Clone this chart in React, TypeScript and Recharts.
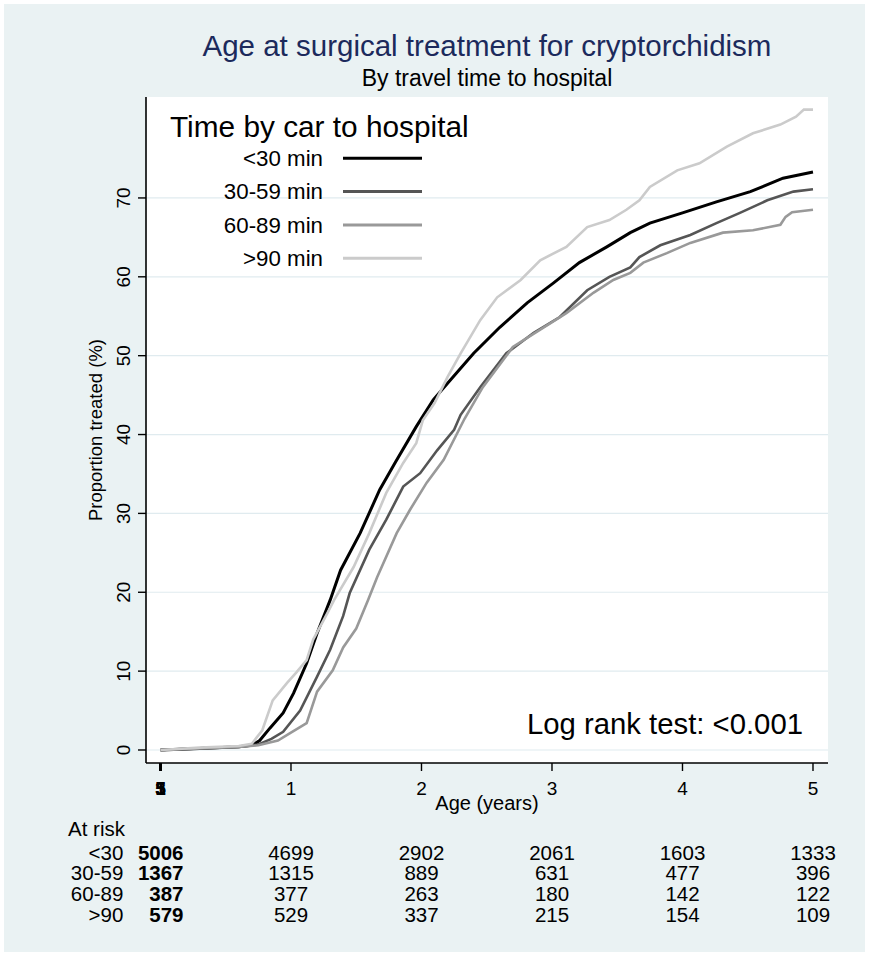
import React from 'react';
import { LineChart, Line, XAxis, YAxis, CartesianGrid, Legend } from 'recharts';

// ---------------- data ----------------
const GROUPS = ['<30 min', '30-59 min', '60-89 min', '>90 min'];
const RISK_LABELS = ['<30', '30-59', '60-89', '>90'];

const T_LT30 = [0, 0.3, 0.6, 0.7, 0.76, 0.84, 0.94, 1.02, 1.12, 1.2, 1.3, 1.38, 1.53, 1.68, 1.8, 1.96, 2.09, 2.2, 2.4, 2.6, 2.81, 3.01, 3.21, 3.42, 3.6, 3.75, 4.0, 4.26, 4.52, 4.77, 5.0];
const V_LT30 = [0, 0.2, 0.4, 0.6, 1.2, 2.8, 4.7, 7.2, 11, 14.8, 19, 22.8, 27.5, 33, 36.5, 41, 44.4, 46.5, 50.3, 53.6, 56.7, 59.2, 61.8, 63.8, 65.6, 66.8, 68.1, 69.5, 70.8, 72.5, 73.3];

const T_30_59 = [0, 0.3, 0.6, 0.75, 0.85, 0.94, 1.07, 1.2, 1.3, 1.4, 1.45, 1.6, 1.73, 1.86, 1.99, 2.12, 2.25, 2.3, 2.45, 2.65, 2.86, 3.06, 3.27, 3.44, 3.6, 3.67, 3.83, 4.06, 4.26, 4.44, 4.65, 4.85, 5.0];
const V_30_59 = [0, 0.2, 0.4, 0.7, 1.4, 2.3, 5, 9.3, 12.7, 17, 19.9, 25.4, 29.2, 33.4, 35.1, 38, 40.6, 42.5, 46, 50.3, 52.9, 54.9, 58.3, 60, 61.2, 62.5, 64, 65.3, 66.8, 68.1, 69.7, 70.8, 71.1];

const T_60_89 = [0, 0.3, 0.6, 0.75, 0.9, 0.99, 1.12, 1.2, 1.32, 1.4, 1.5, 1.59, 1.66, 1.81, 1.91, 2.04, 2.17, 2.33, 2.47, 2.7, 2.91, 3.11, 3.32, 3.47, 3.6, 3.7, 3.88, 4.06, 4.31, 4.54, 4.75, 4.79, 4.84, 5.0];
const V_60_89 = [0, 0.2, 0.4, 0.6, 1.2, 2.1, 3.4, 7.4, 10.1, 13, 15.4, 19, 21.9, 27.5, 30.4, 33.9, 36.8, 42, 46, 51.1, 53.3, 55.4, 58, 59.6, 60.5, 61.8, 63, 64.3, 65.6, 65.9, 66.6, 67.6, 68.2, 68.5];

const T_GT90 = [0, 0.3, 0.6, 0.7, 0.78, 0.86, 0.97, 1.04, 1.12, 1.17, 1.28, 1.33, 1.48, 1.6, 1.73, 1.86, 1.96, 2.01, 2.1, 2.2, 2.3, 2.45, 2.58, 2.76, 2.91, 3.11, 3.27, 3.44, 3.57, 3.67, 3.75, 3.96, 4.13, 4.34, 4.54, 4.75, 4.87, 4.93, 5.0];
const V_GT90 = [0, 0.3, 0.5, 0.8, 2.5, 6.3, 8.5, 9.8, 11.4, 14, 17.4, 19, 23.2, 27.5, 32.6, 36.4, 38.9, 41.8, 44, 47.3, 50.3, 54.5, 57.4, 59.6, 62.1, 63.8, 66.3, 67.2, 68.5, 69.7, 71.4, 73.5, 74.4, 76.5, 78.2, 79.3, 80.3, 81.2, 81.2];

const RISK_TIMES = [0, 1, 2, 3, 4, 5];
const RISK_LT30 = [5006, 4699, 2902, 2061, 1603, 1333];
const RISK_30_59 = [1367, 1315, 889, 631, 477, 396];
const RISK_60_89 = [387, 377, 263, 180, 142, 122];
const RISK_GT90 = [579, 529, 337, 215, 154, 109];

const X_TICKS = [0, 1, 2, 3, 4, 5];
const Y_TICKS = [0, 10, 20, 30, 40, 50, 60, 70];

// ---------------- layout / style ----------------
const W = 869;
const H = 956;
const PLOT = { left: 146, top: 97, right: 828, bottom: 763 };
const X_DOMAIN: [number, number] = [-0.111, 5.115];
const Y_DOMAIN: [number, number] = [-1.65, 82.8];
const COLORS = ['#000000', '#555555', '#999999', '#cbcbcb'];
const WIDTHS = [3, 2.6, 2.6, 2.6];
const FONT = '"Liberation Sans", Arial, Helvetica, sans-serif';
const BG = '#eaf2f3';
const GRID = '#e0ebef';
const TABLE_FS = 20.5;

const zip = (t: number[], v: number[]) => t.map((x, i) => ({ t: x, v: v[i] }));
const SERIES = [zip(T_LT30, V_LT30), zip(T_30_59, V_30_59), zip(T_60_89, V_60_89), zip(T_GT90, V_GT90)];
const RISK = [RISK_LT30, RISK_30_59, RISK_60_89, RISK_GT90];

const xPix = (t: number) =>
  PLOT.left + ((t - X_DOMAIN[0]) / (X_DOMAIN[1] - X_DOMAIN[0])) * (PLOT.right - PLOT.left);

const XTick = (props: any) => {
  const { x, payload } = props;
  if (payload.value === 0) {
    return (
      <g>
        <line x1={x} x2={x} y1={PLOT.bottom} y2={PLOT.bottom + 8} stroke="#000" strokeWidth={3} />
        {['5', '1', '3', '5'].map((d, i) => (
          <text key={i} x={x} y={PLOT.bottom + 32} textAnchor="middle" fontSize={19} fontWeight="bold" fontFamily={FONT} fill="#000">
            {d}
          </text>
        ))}
      </g>
    );
  }
  return (
    <text x={x} y={PLOT.bottom + 32} textAnchor="middle" fontSize={19} fontFamily={FONT} fill="#000">
      {payload.value}
    </text>
  );
};

const YTick = (props: any) => {
  const { y, payload } = props;
  const bx = 130;
  return (
    <text x={bx} y={y} transform={`rotate(-90 ${bx} ${y})`} textAnchor="middle" fontSize={19} fontFamily={FONT} fill="#000">
      {payload.value}
    </text>
  );
};

const LegendBox = () => (
  <svg width={W} height={300} style={{ overflow: 'visible' }}>
    <text x={170} y={137} fontSize={29.8} fontFamily={FONT} fill="#000">
      Time by car to hospital
    </text>
    {GROUPS.map((g, i) => {
      const cy = 158.3 + i * 33.3;
      return (
        <g key={g}>
          <text x={323} y={cy + 7.8} textAnchor="end" fontSize={22.3} fontFamily={FONT} fill="#000">
            {g}
          </text>
          <line x1={343} x2={422} y1={cy} y2={cy} stroke={COLORS[i]} strokeWidth={3} />
        </g>
      );
    })}
  </svg>
);

export default function App() {
  const cx = (PLOT.left + PLOT.right) / 2;
  const cy = (PLOT.top + PLOT.bottom) / 2;
  return (
    <div style={{ position: 'absolute', left: 0, top: 0, width: W, height: H, background: '#ffffff' }}>
      <div style={{ position: 'absolute', left: 4, top: 4, width: W - 8, height: H - 8, background: BG }} />
      <div style={{ position: 'absolute', left: 0, top: 0 }}>
        <LineChart
          width={W}
          height={H}
          margin={{ top: PLOT.top, right: W - PLOT.right, bottom: H - PLOT.bottom - 40, left: PLOT.left - 60 }}
        >
          <CartesianGrid vertical={false} horizontal={true} stroke={GRID} strokeWidth={1.2} fill="#ffffff" horizontalValues={Y_TICKS} />
          <XAxis
            dataKey="t"
            type="number"
            domain={X_DOMAIN}
            allowDataOverflow
            ticks={X_TICKS}
            height={40}
            tickSize={8}
            axisLine={{ stroke: '#000', strokeWidth: 1.6 }}
            tickLine={{ stroke: '#000', strokeWidth: 1.4 }}
            tick={<XTick />}
            interval={0}
          />
          <YAxis
            dataKey="v"
            type="number"
            domain={Y_DOMAIN}
            allowDataOverflow
            ticks={Y_TICKS}
            width={60}
            tickSize={8}
            axisLine={{ stroke: '#000', strokeWidth: 1.6 }}
            tickLine={{ stroke: '#000', strokeWidth: 1.4 }}
            tick={<YTick />}
            interval={0}
          />
          {SERIES.map((d, i) => (
            <Line
              key={GROUPS[i]}
              data={d}
              dataKey="v"
              name={GROUPS[i]}
              type="linear"
              stroke={COLORS[i]}
              strokeWidth={WIDTHS[i]}
              dot={false}
              activeDot={false}
              isAnimationActive={false}
            />
          ))}
          <Legend
            layout="vertical"
            align="center"
            verticalAlign="middle"
            content={<LegendBox />}
            wrapperStyle={{ left: 0, top: 0, width: W, height: 300, pointerEvents: 'none' }}
          />
        </LineChart>
      </div>
      <svg width={W} height={H} style={{ position: 'absolute', left: 0, top: 0, pointerEvents: 'none' }}>
        <text x={cx} y={56} textAnchor="middle" fontSize={29.5} fontFamily={FONT} fill="#1c2a5c">
          Age at surgical treatment for cryptorchidism
        </text>
        <text x={cx} y={86} textAnchor="middle" fontSize={23} fontFamily={FONT} fill="#000">
          By travel time to hospital
        </text>
        <text x={102} y={cy} transform={`rotate(-90 102 ${cy})`} textAnchor="middle" fontSize={18.5} fontFamily={FONT} fill="#000">
          Proportion treated (%)
        </text>
        <text x={cx} y={810} textAnchor="middle" fontSize={20} fontFamily={FONT} fill="#000">
          Age (years)
        </text>
        <text x={803} y={734} textAnchor="end" fontSize={29.3} fontFamily={FONT} fill="#000">
          Log rank test: &lt;0.001
        </text>
        <text x={68} y={836} fontSize={TABLE_FS} fontFamily={FONT} fill="#000">
          At risk
        </text>
        {RISK_LABELS.map((lab, r) => {
          const by = 859.5 + r * 20.8;
          return (
            <g key={lab}>
              <text x={123.3} y={by} textAnchor="end" fontSize={TABLE_FS} fontFamily={FONT} fill="#000">
                {lab}
              </text>
              {RISK[r].map((n, k) =>
                k === 0 ? (
                  <text key={k} x={183.5} y={by} textAnchor="end" fontSize={TABLE_FS} fontWeight="bold" fontFamily={FONT} fill="#000">
                    {n}
                  </text>
                ) : (
                  <text key={k} x={xPix(RISK_TIMES[k])} y={by} textAnchor="middle" fontSize={TABLE_FS} fontFamily={FONT} fill="#000">
                    {n}
                  </text>
                )
              )}
            </g>
          );
        })}
      </svg>
    </div>
  );
}
